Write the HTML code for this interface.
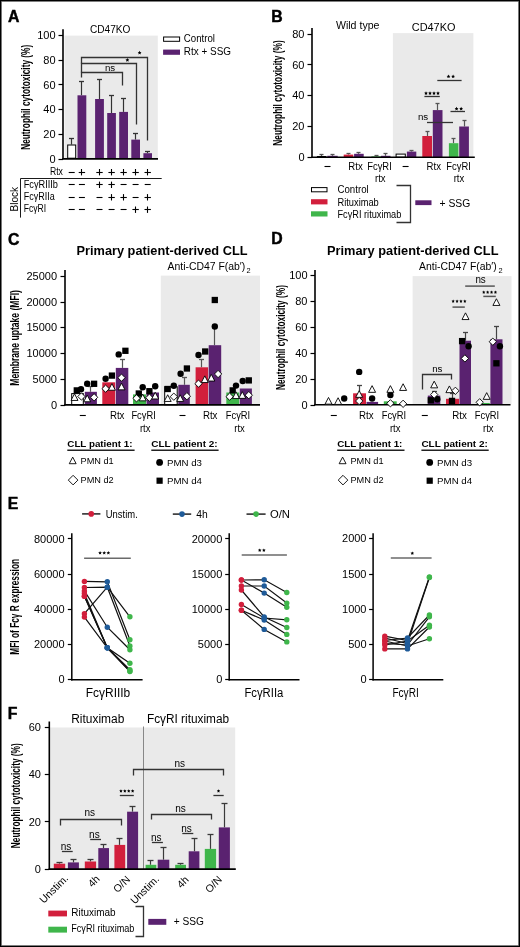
<!DOCTYPE html>
<html><head><meta charset="utf-8"><style>
html,body{margin:0;padding:0;background:#fff;}
body{width:520px;height:947px;overflow:hidden;position:relative;}
svg{position:absolute;left:0;top:0;display:block;will-change:transform;}
text{font-family:"Liberation Sans", sans-serif;}
.frame{position:absolute;left:0;top:0;width:520px;height:947px;box-sizing:border-box;border:1px solid #000;box-shadow:inset 0 0 0 0.8px #555;pointer-events:none;}
</style></head><body>
<svg width="520" height="947" viewBox="0 0 520 947" font-family='"Liberation Sans", sans-serif'>
<rect x="0" y="0" width="520" height="947" fill="#fff"/>
<text x="8.1" y="22.0" font-size="15.8" font-weight="bold" stroke="#000" stroke-width="0.45">A</text>
<text x="110.2" y="32.5" font-size="10" text-anchor="middle" textLength="40.5" lengthAdjust="spacingAndGlyphs">CD47KO</text>
<rect x="64.50" y="35.60" width="93.30" height="122.40" fill="#eaeaea"/>
<text transform="translate(29.9,97.3) rotate(-90)" font-size="13" text-anchor="middle" font-weight="bold" textLength="105" lengthAdjust="spacingAndGlyphs">Neutrophil cytotoxicity (%)</text>
<line x1="58.5" y1="35.5" x2="63" y2="35.5" stroke="#000" stroke-width="1.2"/>
<text x="55.6" y="39.3" font-size="11" text-anchor="end">100</text>
<line x1="58.5" y1="60.5" x2="63" y2="60.5" stroke="#000" stroke-width="1.2"/>
<text x="55.6" y="63.980000000000004" font-size="11" text-anchor="end">80</text>
<line x1="58.5" y1="84.5" x2="63" y2="84.5" stroke="#000" stroke-width="1.2"/>
<text x="55.6" y="88.66000000000001" font-size="11" text-anchor="end">60</text>
<line x1="58.5" y1="109.5" x2="63" y2="109.5" stroke="#000" stroke-width="1.2"/>
<text x="55.6" y="113.34" font-size="11" text-anchor="end">40</text>
<line x1="58.5" y1="134.5" x2="63" y2="134.5" stroke="#000" stroke-width="1.2"/>
<text x="55.6" y="138.01999999999998" font-size="11" text-anchor="end">20</text>
<line x1="58.5" y1="159.5" x2="63" y2="159.5" stroke="#000" stroke-width="1.2"/>
<text x="55.6" y="162.7" font-size="11" text-anchor="end">0</text>
<line x1="71.50" y1="138.50" x2="71.50" y2="144.50" stroke="#333" stroke-width="1.2"/>
<line x1="69.00" y1="138.50" x2="74.00" y2="138.50" stroke="#333" stroke-width="1.3"/>
<rect x="67.70" y="145.00" width="8.00" height="13.20" fill="white" stroke="#000" stroke-width="1"/>
<line x1="81.50" y1="81.50" x2="81.50" y2="95.30" stroke="#333" stroke-width="1.2"/>
<line x1="79.00" y1="81.50" x2="84.00" y2="81.50" stroke="#333" stroke-width="1.3"/>
<rect x="77.50" y="95.30" width="8.80" height="62.90" fill="#5a2270"/>
<line x1="99.50" y1="79.50" x2="99.50" y2="99.00" stroke="#333" stroke-width="1.2"/>
<line x1="97.00" y1="79.50" x2="102.00" y2="79.50" stroke="#333" stroke-width="1.3"/>
<rect x="95.10" y="99.00" width="8.80" height="59.20" fill="#5a2270"/>
<line x1="111.50" y1="95.50" x2="111.50" y2="113.00" stroke="#333" stroke-width="1.2"/>
<line x1="109.00" y1="95.50" x2="114.00" y2="95.50" stroke="#333" stroke-width="1.3"/>
<rect x="107.20" y="113.00" width="8.70" height="45.20" fill="#5a2270"/>
<line x1="123.50" y1="98.50" x2="123.50" y2="111.90" stroke="#333" stroke-width="1.2"/>
<line x1="121.00" y1="98.50" x2="126.00" y2="98.50" stroke="#333" stroke-width="1.3"/>
<rect x="119.20" y="111.90" width="8.80" height="46.30" fill="#5a2270"/>
<line x1="135.50" y1="133.50" x2="135.50" y2="139.60" stroke="#333" stroke-width="1.2"/>
<line x1="133.00" y1="133.50" x2="138.00" y2="133.50" stroke="#333" stroke-width="1.3"/>
<rect x="131.30" y="139.60" width="8.70" height="18.60" fill="#5a2270"/>
<line x1="147.50" y1="151.50" x2="147.50" y2="153.20" stroke="#333" stroke-width="1.2"/>
<line x1="145.00" y1="151.50" x2="150.00" y2="151.50" stroke="#333" stroke-width="1.3"/>
<rect x="143.40" y="153.20" width="8.60" height="5.00" fill="#5a2270"/>
<line x1="62.3" y1="158.9" x2="158" y2="158.9" stroke="#000" stroke-width="1.6"/>
<line x1="63" y1="29.2" x2="63" y2="159.2" stroke="#000" stroke-width="1.6"/>
<path d="M81.5 77.5 V72.5 H122.5 V85.5" stroke="#333" stroke-width="1.3" fill="none"/>
<path d="M81.5 72.5 V63.5 H136.5 V124.5" stroke="#333" stroke-width="1.3" fill="none"/>
<path d="M81.5 63.5 V57.5 H147.5 V140.5" stroke="#333" stroke-width="1.3" fill="none"/>
<text x="110" y="70.9" font-size="9.7" text-anchor="middle">ns</text>
<polygon points="127.40,58.10 127.99,59.29 129.30,59.48 128.35,60.41 128.58,61.72 127.40,61.10 126.22,61.72 126.45,60.41 125.50,59.48 126.81,59.29" fill="#000"/>
<polygon points="139.60,50.80 140.19,51.99 141.50,52.18 140.55,53.11 140.78,54.42 139.60,53.80 138.42,54.42 138.65,53.11 137.70,52.18 139.01,51.99" fill="#000"/>
<rect x="163.60" y="37.00" width="16.00" height="4.30" fill="white" stroke="#000" stroke-width="1"/>
<text x="183.8" y="42.3" font-size="10" textLength="31.2" lengthAdjust="spacingAndGlyphs">Control</text>
<rect x="163.10" y="49.60" width="16.90" height="5.20" fill="#5a2270"/>
<text x="183.8" y="55.4" font-size="10" textLength="47.2" lengthAdjust="spacingAndGlyphs">Rtx + SSG</text>
<text x="62.9" y="174.6" font-size="10" text-anchor="end" textLength="13.0" lengthAdjust="spacingAndGlyphs">Rtx</text>
<line x1="68.7" y1="172.5" x2="74.7" y2="172.5" stroke="#000" stroke-width="1.1"/>
<line x1="78.7" y1="172.5" x2="85.10000000000001" y2="172.5" stroke="#000" stroke-width="1.1"/>
<line x1="81.5" y1="169.0" x2="81.5" y2="175.39999999999998" stroke="#000" stroke-width="1.1"/>
<line x1="96.3" y1="172.5" x2="102.7" y2="172.5" stroke="#000" stroke-width="1.1"/>
<line x1="99.5" y1="169.0" x2="99.5" y2="175.39999999999998" stroke="#000" stroke-width="1.1"/>
<line x1="108.39999999999999" y1="172.5" x2="114.8" y2="172.5" stroke="#000" stroke-width="1.1"/>
<line x1="111.5" y1="169.0" x2="111.5" y2="175.39999999999998" stroke="#000" stroke-width="1.1"/>
<line x1="120.39999999999999" y1="172.5" x2="126.8" y2="172.5" stroke="#000" stroke-width="1.1"/>
<line x1="123.5" y1="169.0" x2="123.5" y2="175.39999999999998" stroke="#000" stroke-width="1.1"/>
<line x1="132.4" y1="172.5" x2="138.79999999999998" y2="172.5" stroke="#000" stroke-width="1.1"/>
<line x1="135.5" y1="169.0" x2="135.5" y2="175.39999999999998" stroke="#000" stroke-width="1.1"/>
<line x1="144.5" y1="172.5" x2="150.89999999999998" y2="172.5" stroke="#000" stroke-width="1.1"/>
<line x1="147.5" y1="169.0" x2="147.5" y2="175.39999999999998" stroke="#000" stroke-width="1.1"/>
<line x1="68.7" y1="184.5" x2="74.7" y2="184.5" stroke="#000" stroke-width="1.1"/>
<line x1="78.9" y1="184.5" x2="84.9" y2="184.5" stroke="#000" stroke-width="1.1"/>
<line x1="96.3" y1="184.5" x2="102.7" y2="184.5" stroke="#000" stroke-width="1.1"/>
<line x1="99.5" y1="181.60000000000002" x2="99.5" y2="188.0" stroke="#000" stroke-width="1.1"/>
<line x1="108.39999999999999" y1="184.5" x2="114.8" y2="184.5" stroke="#000" stroke-width="1.1"/>
<line x1="111.5" y1="181.60000000000002" x2="111.5" y2="188.0" stroke="#000" stroke-width="1.1"/>
<line x1="120.6" y1="184.5" x2="126.6" y2="184.5" stroke="#000" stroke-width="1.1"/>
<line x1="132.6" y1="184.5" x2="138.6" y2="184.5" stroke="#000" stroke-width="1.1"/>
<line x1="144.7" y1="184.5" x2="150.7" y2="184.5" stroke="#000" stroke-width="1.1"/>
<line x1="68.7" y1="197.5" x2="74.7" y2="197.5" stroke="#000" stroke-width="1.1"/>
<line x1="78.9" y1="197.5" x2="84.9" y2="197.5" stroke="#000" stroke-width="1.1"/>
<line x1="96.5" y1="197.5" x2="102.5" y2="197.5" stroke="#000" stroke-width="1.1"/>
<line x1="108.39999999999999" y1="197.5" x2="114.8" y2="197.5" stroke="#000" stroke-width="1.1"/>
<line x1="111.5" y1="194.10000000000002" x2="111.5" y2="200.5" stroke="#000" stroke-width="1.1"/>
<line x1="120.39999999999999" y1="197.5" x2="126.8" y2="197.5" stroke="#000" stroke-width="1.1"/>
<line x1="123.5" y1="194.10000000000002" x2="123.5" y2="200.5" stroke="#000" stroke-width="1.1"/>
<line x1="132.6" y1="197.5" x2="138.6" y2="197.5" stroke="#000" stroke-width="1.1"/>
<line x1="144.5" y1="197.5" x2="150.89999999999998" y2="197.5" stroke="#000" stroke-width="1.1"/>
<line x1="147.5" y1="194.10000000000002" x2="147.5" y2="200.5" stroke="#000" stroke-width="1.1"/>
<line x1="68.7" y1="209.5" x2="74.7" y2="209.5" stroke="#000" stroke-width="1.1"/>
<line x1="78.9" y1="209.5" x2="84.9" y2="209.5" stroke="#000" stroke-width="1.1"/>
<line x1="96.5" y1="209.5" x2="102.5" y2="209.5" stroke="#000" stroke-width="1.1"/>
<line x1="108.6" y1="209.5" x2="114.6" y2="209.5" stroke="#000" stroke-width="1.1"/>
<line x1="120.6" y1="209.5" x2="126.6" y2="209.5" stroke="#000" stroke-width="1.1"/>
<line x1="132.4" y1="209.5" x2="138.79999999999998" y2="209.5" stroke="#000" stroke-width="1.1"/>
<line x1="135.5" y1="206.5" x2="135.5" y2="212.89999999999998" stroke="#000" stroke-width="1.1"/>
<line x1="144.5" y1="209.5" x2="150.89999999999998" y2="209.5" stroke="#000" stroke-width="1.1"/>
<line x1="147.5" y1="206.5" x2="147.5" y2="212.89999999999998" stroke="#000" stroke-width="1.1"/>
<line x1="20.4" y1="178.5" x2="161.7" y2="178.5" stroke="#000" stroke-width="0.9"/>
<line x1="20.5" y1="178.7" x2="20.5" y2="217.6" stroke="#000" stroke-width="0.9"/>
<text x="23.7" y="187.6" font-size="10" textLength="34.3" lengthAdjust="spacingAndGlyphs">Fc&#947;RIIIb</text>
<text x="23.7" y="200.2" font-size="10" textLength="31.0" lengthAdjust="spacingAndGlyphs">Fc&#947;RIIa</text>
<text x="23.7" y="212.4" font-size="10" textLength="22.5" lengthAdjust="spacingAndGlyphs">Fc&#947;RI</text>
<text transform="translate(17.8,199.2) rotate(-90)" font-size="10.5" text-anchor="middle" textLength="24.5" lengthAdjust="spacingAndGlyphs">Block</text>
<text x="271.3" y="22.0" font-size="15.8" font-weight="bold" stroke="#000" stroke-width="0.45">B</text>
<text x="357.7" y="29.0" font-size="10" text-anchor="middle" textLength="43.5" lengthAdjust="spacingAndGlyphs">Wild type</text>
<text x="433.6" y="30.7" font-size="10" text-anchor="middle" textLength="43.6" lengthAdjust="spacingAndGlyphs">CD47KO</text>
<rect x="392.90" y="33.10" width="80.50" height="123.90" fill="#eaeaea"/>
<text transform="translate(282.0,93.0) rotate(-90)" font-size="13" text-anchor="middle" font-weight="bold" textLength="105.4" lengthAdjust="spacingAndGlyphs">Neutrophil cytotoxicity (%)</text>
<line x1="307.5" y1="34.5" x2="312" y2="34.5" stroke="#000" stroke-width="1.2"/>
<text x="304.5" y="37.760000000000005" font-size="11" text-anchor="end">80</text>
<line x1="307.5" y1="64.5" x2="312" y2="64.5" stroke="#000" stroke-width="1.2"/>
<text x="304.5" y="68.62" font-size="11" text-anchor="end">60</text>
<line x1="307.5" y1="95.5" x2="312" y2="95.5" stroke="#000" stroke-width="1.2"/>
<text x="304.5" y="99.48" font-size="11" text-anchor="end">40</text>
<line x1="307.5" y1="126.5" x2="312" y2="126.5" stroke="#000" stroke-width="1.2"/>
<text x="304.5" y="130.34" font-size="11" text-anchor="end">20</text>
<line x1="307.5" y1="157.5" x2="312" y2="157.5" stroke="#000" stroke-width="1.2"/>
<text x="304.5" y="161.2" font-size="11" text-anchor="end">0</text>
<line x1="321.50" y1="154.50" x2="321.50" y2="156.00" stroke="#555" stroke-width="1.2"/>
<line x1="319.50" y1="154.50" x2="323.50" y2="154.50" stroke="#555" stroke-width="1.3"/>
<rect x="317.40" y="156.50" width="8.50" height="0.70" fill="white" stroke="#000" stroke-width="1"/>
<line x1="332.50" y1="154.50" x2="332.50" y2="155.80" stroke="#555" stroke-width="1.2"/>
<line x1="330.50" y1="154.50" x2="334.50" y2="154.50" stroke="#555" stroke-width="1.3"/>
<rect x="327.30" y="155.80" width="10.40" height="1.40" fill="#5a2270"/>
<line x1="348.50" y1="153.50" x2="348.50" y2="154.60" stroke="#555" stroke-width="1.2"/>
<line x1="346.50" y1="153.50" x2="350.50" y2="153.50" stroke="#555" stroke-width="1.3"/>
<rect x="343.70" y="154.60" width="9.60" height="2.60" fill="#d21f3c"/>
<line x1="358.50" y1="152.50" x2="358.50" y2="153.80" stroke="#555" stroke-width="1.2"/>
<line x1="356.50" y1="152.50" x2="360.50" y2="152.50" stroke="#555" stroke-width="1.3"/>
<rect x="354.10" y="153.80" width="9.60" height="3.40" fill="#5a2270"/>
<line x1="376.50" y1="155.50" x2="376.50" y2="156.40" stroke="#555" stroke-width="1.2"/>
<line x1="374.50" y1="155.50" x2="378.50" y2="155.50" stroke="#555" stroke-width="1.3"/>
<rect x="371.40" y="156.40" width="9.60" height="0.80" fill="#3fb64b"/>
<line x1="385.50" y1="153.50" x2="385.50" y2="155.80" stroke="#555" stroke-width="1.2"/>
<line x1="383.50" y1="153.50" x2="387.50" y2="153.50" stroke="#555" stroke-width="1.3"/>
<rect x="381.00" y="155.80" width="9.50" height="1.40" fill="#5a2270"/>
<rect x="396.10" y="154.10" width="9.20" height="3.10" fill="white" stroke="#000" stroke-width="1"/>
<line x1="411.50" y1="150.50" x2="411.50" y2="151.60" stroke="#555" stroke-width="1.2"/>
<line x1="409.50" y1="150.50" x2="413.50" y2="150.50" stroke="#555" stroke-width="1.3"/>
<rect x="406.90" y="151.60" width="9.40" height="5.60" fill="#5a2270"/>
<line x1="427.50" y1="131.50" x2="427.50" y2="136.00" stroke="#555" stroke-width="1.2"/>
<line x1="425.50" y1="131.50" x2="429.50" y2="131.50" stroke="#555" stroke-width="1.3"/>
<rect x="422.30" y="136.00" width="9.70" height="21.20" fill="#d21f3c"/>
<line x1="437.50" y1="103.50" x2="437.50" y2="110.10" stroke="#555" stroke-width="1.2"/>
<line x1="435.50" y1="103.50" x2="439.50" y2="103.50" stroke="#555" stroke-width="1.3"/>
<rect x="432.80" y="110.10" width="9.70" height="47.10" fill="#5a2270"/>
<line x1="453.50" y1="138.50" x2="453.50" y2="143.20" stroke="#555" stroke-width="1.2"/>
<line x1="451.50" y1="138.50" x2="455.50" y2="138.50" stroke="#555" stroke-width="1.3"/>
<rect x="448.90" y="143.20" width="9.50" height="14.00" fill="#3fb64b"/>
<line x1="464.50" y1="120.50" x2="464.50" y2="126.50" stroke="#555" stroke-width="1.2"/>
<line x1="462.50" y1="120.50" x2="466.50" y2="120.50" stroke="#555" stroke-width="1.3"/>
<rect x="459.20" y="126.50" width="9.70" height="30.70" fill="#5a2270"/>
<line x1="311.3" y1="157.3" x2="474.8" y2="157.3" stroke="#000" stroke-width="1.6"/>
<line x1="312" y1="28" x2="312" y2="158" stroke="#000" stroke-width="1.6"/>
<line x1="424.4" y1="96.5" x2="439.8" y2="96.5" stroke="#333" stroke-width="1.3"/>
<polygon points="426.00,91.30 426.59,92.49 427.90,92.68 426.95,93.61 427.18,94.92 426.00,94.30 424.82,94.92 425.05,93.61 424.10,92.68 425.41,92.49" fill="#000"/>
<polygon points="430.00,91.30 430.59,92.49 431.90,92.68 430.95,93.61 431.18,94.92 430.00,94.30 428.82,94.92 429.05,93.61 428.10,92.68 429.41,92.49" fill="#000"/>
<polygon points="434.00,91.30 434.59,92.49 435.90,92.68 434.95,93.61 435.18,94.92 434.00,94.30 432.82,94.92 433.05,93.61 432.10,92.68 433.41,92.49" fill="#000"/>
<polygon points="438.00,91.30 438.59,92.49 439.90,92.68 438.95,93.61 439.18,94.92 438.00,94.30 436.82,94.92 437.05,93.61 436.10,92.68 437.41,92.49" fill="#000"/>
<line x1="427.0" y1="122.5" x2="453.0" y2="122.5" stroke="#333" stroke-width="1.3"/>
<text x="423.0" y="120.0" font-size="9.7" text-anchor="middle">ns</text>
<line x1="450.5" y1="111.5" x2="465.0" y2="111.5" stroke="#333" stroke-width="1.3"/>
<polygon points="456.55,106.80 457.14,107.99 458.45,108.18 457.50,109.11 457.73,110.42 456.55,109.80 455.37,110.42 455.60,109.11 454.65,108.18 455.96,107.99" fill="#000"/>
<polygon points="461.15,106.80 461.74,107.99 463.05,108.18 462.10,109.11 462.33,110.42 461.15,109.80 459.97,110.42 460.20,109.11 459.25,108.18 460.56,107.99" fill="#000"/>
<line x1="437.3" y1="80.5" x2="461.6" y2="80.5" stroke="#333" stroke-width="1.3"/>
<polygon points="448.50,74.50 449.09,75.69 450.40,75.88 449.45,76.81 449.68,78.12 448.50,77.50 447.32,78.12 447.55,76.81 446.60,75.88 447.91,75.69" fill="#000"/>
<polygon points="453.10,74.50 453.69,75.69 455.00,75.88 454.05,76.81 454.28,78.12 453.10,77.50 451.92,78.12 452.15,76.81 451.20,75.88 452.51,75.69" fill="#000"/>
<line x1="324.5" y1="166.5" x2="330.5" y2="166.5" stroke="#000" stroke-width="1.1"/>
<line x1="402.6" y1="166.5" x2="408.6" y2="166.5" stroke="#000" stroke-width="1.1"/>
<text x="355.5" y="169.6" font-size="10" text-anchor="middle" textLength="14.4" lengthAdjust="spacingAndGlyphs">Rtx</text>
<text x="433.8" y="169.6" font-size="10" text-anchor="middle" textLength="14.4" lengthAdjust="spacingAndGlyphs">Rtx</text>
<text x="379.5" y="169.6" font-size="10" text-anchor="middle" textLength="24.6" lengthAdjust="spacingAndGlyphs">Fc&#947;RI</text>
<text x="458.6" y="169.6" font-size="10" text-anchor="middle" textLength="24.6" lengthAdjust="spacingAndGlyphs">Fc&#947;RI</text>
<text x="380.3" y="182.0" font-size="10" text-anchor="middle" textLength="10.6" lengthAdjust="spacingAndGlyphs">rtx</text>
<text x="459.0" y="182.0" font-size="10" text-anchor="middle" textLength="10.6" lengthAdjust="spacingAndGlyphs">rtx</text>
<rect x="311.50" y="187.60" width="15.50" height="4.20" fill="white" stroke="#000" stroke-width="1"/>
<rect x="311.00" y="199.20" width="16.50" height="5.20" fill="#d21f3c"/>
<rect x="311.00" y="211.30" width="16.50" height="5.20" fill="#3fb64b"/>
<text x="337.5" y="193.0" font-size="10" textLength="31.2" lengthAdjust="spacingAndGlyphs">Control</text>
<text x="337.5" y="205.5" font-size="10" textLength="41.3" lengthAdjust="spacingAndGlyphs">Rituximab</text>
<text x="337.5" y="217.6" font-size="10" textLength="63.8" lengthAdjust="spacingAndGlyphs">Fc&#947;RI rituximab</text>
<path d="M396.5 185.5 H410.5 V222.5 H396.5" stroke="#333" stroke-width="1.3" fill="none"/>
<rect x="415.30" y="200.30" width="16.20" height="4.80" fill="#5a2270"/>
<text x="439.5" y="206.6" font-size="10" textLength="30.8" lengthAdjust="spacingAndGlyphs">+ SSG</text>
<text x="7.9" y="244.5" font-size="15.8" font-weight="bold" stroke="#000" stroke-width="0.45">C</text>
<text x="76.5" y="255.4" font-size="12.1" font-weight="bold" textLength="171" lengthAdjust="spacingAndGlyphs">Primary patient-derived CLL</text>
<text x="167.5" y="270.0" font-size="10.4" textLength="77.8" lengthAdjust="spacingAndGlyphs">Anti-CD47 F(ab&#8242;)</text>
<text x="246.5" y="272.6" font-size="7.4">2</text>
<rect x="160.80" y="275.60" width="99.20" height="129.00" fill="#eaeaea"/>
<text transform="translate(19.2,337.9) rotate(-90)" font-size="12.8" text-anchor="middle" font-weight="bold" textLength="95.6" lengthAdjust="spacingAndGlyphs">Membrane uptake (MFI)</text>
<line x1="60.5" y1="276.5" x2="65" y2="276.5" stroke="#000" stroke-width="1.2"/>
<text x="57" y="279.95" font-size="11" text-anchor="end">25000</text>
<line x1="60.5" y1="302.5" x2="65" y2="302.5" stroke="#000" stroke-width="1.2"/>
<text x="57" y="305.7" font-size="11" text-anchor="end">20000</text>
<line x1="60.5" y1="327.5" x2="65" y2="327.5" stroke="#000" stroke-width="1.2"/>
<text x="57" y="331.45" font-size="11" text-anchor="end">15000</text>
<line x1="60.5" y1="353.5" x2="65" y2="353.5" stroke="#000" stroke-width="1.2"/>
<text x="57" y="357.2" font-size="11" text-anchor="end">10000</text>
<line x1="60.5" y1="379.5" x2="65" y2="379.5" stroke="#000" stroke-width="1.2"/>
<text x="57" y="382.95" font-size="11" text-anchor="end">5000</text>
<line x1="60.5" y1="405.5" x2="65" y2="405.5" stroke="#000" stroke-width="1.2"/>
<text x="57" y="408.7" font-size="11" text-anchor="end">0</text>
<rect x="71.70" y="393.60" width="11.60" height="11.20" fill="white" stroke="#000" stroke-width="1"/>
<line x1="90.50" y1="386.50" x2="90.50" y2="391.80" stroke="#555" stroke-width="1.2"/>
<line x1="88.00" y1="386.50" x2="93.00" y2="386.50" stroke="#555" stroke-width="1.3"/>
<rect x="84.80" y="391.80" width="12.10" height="13.00" fill="#5a2270"/>
<rect x="102.30" y="382.30" width="12.90" height="22.50" fill="#d21f3c"/>
<line x1="122.50" y1="359.50" x2="122.50" y2="367.90" stroke="#555" stroke-width="1.2"/>
<line x1="120.00" y1="359.50" x2="125.00" y2="359.50" stroke="#555" stroke-width="1.3"/>
<rect x="115.80" y="367.90" width="12.50" height="36.90" fill="#5a2270"/>
<rect x="133.00" y="394.40" width="13.00" height="10.40" fill="#3fb64b"/>
<rect x="146.50" y="392.50" width="12.50" height="12.30" fill="#5a2270"/>
<rect x="164.70" y="386.70" width="12.50" height="18.10" fill="white" stroke="#000" stroke-width="1"/>
<line x1="184.50" y1="377.50" x2="184.50" y2="384.80" stroke="#555" stroke-width="1.2"/>
<line x1="182.00" y1="377.50" x2="187.00" y2="377.50" stroke="#555" stroke-width="1.3"/>
<rect x="178.30" y="384.80" width="11.50" height="20.00" fill="#5a2270"/>
<line x1="201.50" y1="359.50" x2="201.50" y2="367.30" stroke="#555" stroke-width="1.2"/>
<line x1="199.00" y1="359.50" x2="204.00" y2="359.50" stroke="#555" stroke-width="1.3"/>
<rect x="195.60" y="367.30" width="12.50" height="37.50" fill="#d21f3c"/>
<line x1="214.50" y1="326.50" x2="214.50" y2="345.20" stroke="#555" stroke-width="1.2"/>
<line x1="212.00" y1="326.50" x2="217.00" y2="326.50" stroke="#555" stroke-width="1.3"/>
<rect x="208.70" y="345.20" width="12.50" height="59.60" fill="#5a2270"/>
<rect x="226.30" y="392.50" width="12.90" height="12.30" fill="#3fb64b"/>
<rect x="239.80" y="388.50" width="12.10" height="16.30" fill="#5a2270"/>
<line x1="64.3" y1="404.9" x2="260" y2="404.9" stroke="#000" stroke-width="1.6"/>
<line x1="65" y1="270" x2="65" y2="405.5" stroke="#000" stroke-width="1.6"/>
<rect x="73.65" y="387.25" width="6.3" height="6.3" fill="#000"/>
<circle cx="81.0" cy="389.2" r="3.2" fill="#000"/>
<path d="M74.50 393.75 L78.00 400.45 L71.00 400.45 Z" fill="#fff" stroke="#000" stroke-width="0.9"/>
<path d="M81.40 392.85 L85.05 396.50 L81.40 400.15 L77.75 396.50 Z" fill="#fff" stroke="#000" stroke-width="0.9"/>
<circle cx="87.2" cy="383.8" r="3.2" fill="#000"/>
<rect x="90.95" y="380.65" width="6.3" height="6.3" fill="#000"/>
<path d="M87.20 395.05 L90.70 401.75 L83.70 401.75 Z" fill="#fff" stroke="#000" stroke-width="0.9"/>
<path d="M94.10 393.65 L97.75 397.30 L94.10 400.95 L90.45 397.30 Z" fill="#fff" stroke="#000" stroke-width="0.9"/>
<circle cx="105.6" cy="378.7" r="3.2" fill="#000"/>
<rect x="108.75" y="372.45" width="6.3" height="6.3" fill="#000"/>
<path d="M105.60 385.05 L109.25 388.70 L105.60 392.35 L101.95 388.70 Z" fill="#fff" stroke="#000" stroke-width="0.9"/>
<path d="M111.90 383.55 L115.40 390.25 L108.40 390.25 Z" fill="#fff" stroke="#000" stroke-width="0.9"/>
<circle cx="118.7" cy="354.4" r="3.2" fill="#000"/>
<rect x="122.25" y="347.65" width="6.3" height="6.3" fill="#000"/>
<path d="M121.50 374.05 L125.15 377.70 L121.50 381.35 L117.85 377.70 Z" fill="#fff" stroke="#000" stroke-width="0.9"/>
<path d="M121.50 383.15 L125.00 389.85 L118.00 389.85 Z" fill="#fff" stroke="#000" stroke-width="0.9"/>
<rect x="135.65" y="390.35" width="6.3" height="6.3" fill="#000"/>
<circle cx="142.7" cy="387.3" r="3.2" fill="#000"/>
<path d="M136.50 394.65 L140.15 398.30 L136.50 401.95 L132.85 398.30 Z" fill="#fff" stroke="#000" stroke-width="0.9"/>
<path d="M142.70 394.15 L146.20 400.85 L139.20 400.85 Z" fill="#fff" stroke="#000" stroke-width="0.9"/>
<rect x="146.25" y="388.05" width="6.3" height="6.3" fill="#000"/>
<circle cx="155.2" cy="386.2" r="3.2" fill="#000"/>
<path d="M149.40 394.05 L153.05 397.70 L149.40 401.35 L145.75 397.70 Z" fill="#fff" stroke="#000" stroke-width="0.9"/>
<path d="M155.20 392.25 L158.70 398.95 L151.70 398.95 Z" fill="#fff" stroke="#000" stroke-width="0.9"/>
<rect x="164.55" y="385.85" width="6.3" height="6.3" fill="#000"/>
<circle cx="173.8" cy="385.8" r="3.2" fill="#000"/>
<path d="M167.70 394.75 L171.20 401.45 L164.20 401.45 Z" fill="#fff" stroke="#000" stroke-width="0.9"/>
<path d="M173.80 393.05 L177.45 396.70 L173.80 400.35 L170.15 396.70 Z" fill="#fff" stroke="#000" stroke-width="0.9"/>
<circle cx="180.6" cy="373.7" r="3.2" fill="#000"/>
<rect x="183.75" y="365.35" width="6.3" height="6.3" fill="#000"/>
<path d="M180.20 394.75 L183.70 401.45 L176.70 401.45 Z" fill="#fff" stroke="#000" stroke-width="0.9"/>
<path d="M186.90 392.55 L190.55 396.20 L186.90 399.85 L183.25 396.20 Z" fill="#fff" stroke="#000" stroke-width="0.9"/>
<circle cx="198.5" cy="355.0" r="3.2" fill="#000"/>
<rect x="202.05" y="348.35" width="6.3" height="6.3" fill="#000"/>
<path d="M198.50 380.05 L202.15 383.70 L198.50 387.35 L194.85 383.70 Z" fill="#fff" stroke="#000" stroke-width="0.9"/>
<path d="M204.80 375.85 L208.30 382.55 L201.30 382.55 Z" fill="#fff" stroke="#000" stroke-width="0.9"/>
<rect x="211.65" y="296.85" width="6.3" height="6.3" fill="#000"/>
<circle cx="214.8" cy="326.5" r="3.2" fill="#000"/>
<path d="M211.30 374.35 L214.80 381.05 L207.80 381.05 Z" fill="#fff" stroke="#000" stroke-width="0.9"/>
<path d="M218.10 370.35 L221.75 374.00 L218.10 377.65 L214.45 374.00 Z" fill="#fff" stroke="#000" stroke-width="0.9"/>
<rect x="229.55" y="387.25" width="6.3" height="6.3" fill="#000"/>
<circle cx="236.0" cy="385.6" r="3.2" fill="#000"/>
<path d="M229.60 393.05 L233.25 396.70 L229.60 400.35 L225.95 396.70 Z" fill="#fff" stroke="#000" stroke-width="0.9"/>
<path d="M236.00 391.85 L239.50 398.55 L232.50 398.55 Z" fill="#fff" stroke="#000" stroke-width="0.9"/>
<circle cx="242.7" cy="381.0" r="3.2" fill="#000"/>
<rect x="245.65" y="377.25" width="6.3" height="6.3" fill="#000"/>
<path d="M242.30 391.65 L245.80 398.35 L238.80 398.35 Z" fill="#fff" stroke="#000" stroke-width="0.9"/>
<path d="M248.80 391.55 L252.45 395.20 L248.80 398.85 L245.15 395.20 Z" fill="#fff" stroke="#000" stroke-width="0.9"/>
<line x1="79.8" y1="415.5" x2="85.8" y2="415.5" stroke="#000" stroke-width="1.1"/>
<line x1="179.5" y1="415.5" x2="185.5" y2="415.5" stroke="#000" stroke-width="1.1"/>
<text x="117.2" y="418.8" font-size="10" text-anchor="middle" textLength="14.6" lengthAdjust="spacingAndGlyphs">Rtx</text>
<text x="210.2" y="418.8" font-size="10" text-anchor="middle" textLength="14.6" lengthAdjust="spacingAndGlyphs">Rtx</text>
<text x="143.6" y="418.8" font-size="10" text-anchor="middle" textLength="24.4" lengthAdjust="spacingAndGlyphs">Fc&#947;RI</text>
<text x="145.2" y="432.0" font-size="10" text-anchor="middle" textLength="10.5" lengthAdjust="spacingAndGlyphs">rtx</text>
<text x="238.0" y="418.8" font-size="10" text-anchor="middle" textLength="24.4" lengthAdjust="spacingAndGlyphs">Fc&#947;RI</text>
<text x="239.6" y="432.0" font-size="10" text-anchor="middle" textLength="10.5" lengthAdjust="spacingAndGlyphs">rtx</text>
<text x="67.3" y="447.3" font-size="9.0" font-weight="bold" textLength="65.2" lengthAdjust="spacingAndGlyphs">CLL patient 1:</text>
<line x1="67.3" y1="450.2" x2="134.6" y2="450.2" stroke="#222" stroke-width="1.4"/>
<text x="151.3" y="447.3" font-size="9.0" font-weight="bold" textLength="66.4" lengthAdjust="spacingAndGlyphs">CLL patient 2:</text>
<line x1="151.3" y1="450.2" x2="218.60000000000002" y2="450.2" stroke="#222" stroke-width="1.4"/>
<path d="M72.70 457.10 L76.15 463.71 L69.25 463.71 Z" fill="#fff" stroke="#000" stroke-width="0.9"/>
<text x="80.5" y="463.7" font-size="8.9" textLength="33.2" lengthAdjust="spacingAndGlyphs">PMN d1</text>
<path d="M73.10 475.30 L77.90 480.10 L73.10 484.90 L68.30 480.10 Z" fill="#fff" stroke="#000" stroke-width="0.9"/>
<text x="80.5" y="483.2" font-size="8.9" textLength="33.2" lengthAdjust="spacingAndGlyphs">PMN d2</text>
<circle cx="159.60000000000002" cy="462.40000000000003" r="3.4" fill="#000"/>
<text x="167.0" y="465.8" font-size="8.9" textLength="35.0" lengthAdjust="spacingAndGlyphs">PMN d3</text>
<rect x="156.50" y="477.60" width="6.2" height="6.2" fill="#000"/>
<text x="167.0" y="484.2" font-size="8.9" textLength="35.0" lengthAdjust="spacingAndGlyphs">PMN d4</text>
<text x="271.3" y="244.2" font-size="15.8" font-weight="bold" stroke="#000" stroke-width="0.45">D</text>
<text x="327.0" y="255.4" font-size="12.1" font-weight="bold" textLength="171.5" lengthAdjust="spacingAndGlyphs">Primary patient-derived CLL</text>
<text x="419.0" y="270.0" font-size="10.4" textLength="77.8" lengthAdjust="spacingAndGlyphs">Anti-CD47 F(ab&#8242;)</text>
<text x="498.4" y="272.6" font-size="7.4">2</text>
<rect x="412.60" y="276.10" width="98.90" height="128.30" fill="#eaeaea"/>
<text transform="translate(284.8,337.55) rotate(-90)" font-size="13" text-anchor="middle" font-weight="bold" textLength="104.9" lengthAdjust="spacingAndGlyphs">Neutrophil cytotoxicity (%)</text>
<line x1="310.5" y1="275.5" x2="315" y2="275.5" stroke="#000" stroke-width="1.2"/>
<text x="307.5" y="279.45" font-size="11" text-anchor="end">100</text>
<line x1="310.5" y1="301.5" x2="315" y2="301.5" stroke="#000" stroke-width="1.2"/>
<text x="307.5" y="305.3" font-size="11" text-anchor="end">80</text>
<line x1="310.5" y1="327.5" x2="315" y2="327.5" stroke="#000" stroke-width="1.2"/>
<text x="307.5" y="331.15" font-size="11" text-anchor="end">60</text>
<line x1="310.5" y1="353.5" x2="315" y2="353.5" stroke="#000" stroke-width="1.2"/>
<text x="307.5" y="357.0" font-size="11" text-anchor="end">40</text>
<line x1="310.5" y1="379.5" x2="315" y2="379.5" stroke="#000" stroke-width="1.2"/>
<text x="307.5" y="382.84999999999997" font-size="11" text-anchor="end">20</text>
<line x1="310.5" y1="405.5" x2="315" y2="405.5" stroke="#000" stroke-width="1.2"/>
<text x="307.5" y="408.7" font-size="11" text-anchor="end">0</text>
<line x1="359.50" y1="385.50" x2="359.50" y2="393.30" stroke="#444" stroke-width="1.2"/>
<line x1="357.00" y1="385.50" x2="362.00" y2="385.50" stroke="#444" stroke-width="1.3"/>
<rect x="353.10" y="393.30" width="12.90" height="11.30" fill="#d21f3c"/>
<rect x="366.50" y="401.90" width="11.60" height="2.70" fill="#5a2270"/>
<rect x="383.80" y="401.30" width="12.90" height="3.30" fill="#3fb64b"/>
<line x1="434.50" y1="391.50" x2="434.50" y2="395.60" stroke="#444" stroke-width="1.2"/>
<line x1="432.00" y1="391.50" x2="437.00" y2="391.50" stroke="#444" stroke-width="1.3"/>
<rect x="427.80" y="395.60" width="12.50" height="9.00" fill="#5a2270"/>
<line x1="452.50" y1="393.50" x2="452.50" y2="398.80" stroke="#444" stroke-width="1.2"/>
<line x1="450.00" y1="393.50" x2="455.00" y2="393.50" stroke="#444" stroke-width="1.3"/>
<rect x="446.00" y="398.80" width="13.10" height="5.80" fill="#d21f3c"/>
<line x1="465.50" y1="332.50" x2="465.50" y2="340.70" stroke="#444" stroke-width="1.2"/>
<line x1="463.00" y1="332.50" x2="468.00" y2="332.50" stroke="#444" stroke-width="1.3"/>
<rect x="459.50" y="340.70" width="11.50" height="63.90" fill="#5a2270"/>
<rect x="477.00" y="403.00" width="12.80" height="1.60" fill="#3fb64b"/>
<line x1="496.50" y1="326.50" x2="496.50" y2="339.30" stroke="#444" stroke-width="1.2"/>
<line x1="494.00" y1="326.50" x2="499.00" y2="326.50" stroke="#444" stroke-width="1.3"/>
<rect x="490.40" y="339.30" width="12.10" height="65.30" fill="#5a2270"/>
<line x1="314.3" y1="404.7" x2="510.5" y2="404.7" stroke="#000" stroke-width="1.6"/>
<line x1="315" y1="270" x2="315" y2="405.3" stroke="#000" stroke-width="1.6"/>
<path d="M328.50 397.45 L332.00 404.15 L325.00 404.15 Z" fill="#fff" stroke="#000" stroke-width="0.9"/>
<path d="M338.10 397.75 L341.60 404.45 L334.60 404.45 Z" fill="#fff" stroke="#000" stroke-width="0.9"/>
<circle cx="344.2" cy="398.5" r="3.2" fill="#000"/>
<circle cx="359.2" cy="371.9" r="3.2" fill="#000"/>
<path d="M359.20 390.65 L362.70 397.35 L355.70 397.35 Z" fill="#fff" stroke="#000" stroke-width="0.9"/>
<path d="M359.20 397.35 L362.85 401.00 L359.20 404.65 L355.55 401.00 Z" fill="#fff" stroke="#000" stroke-width="0.9"/>
<circle cx="372.1" cy="398.5" r="3.2" fill="#000"/>
<path d="M372.10 385.65 L375.60 392.35 L368.60 392.35 Z" fill="#fff" stroke="#000" stroke-width="0.9"/>
<circle cx="390.4" cy="395.0" r="3.2" fill="#000"/>
<path d="M390.40 385.65 L393.90 392.35 L386.90 392.35 Z" fill="#fff" stroke="#000" stroke-width="0.9"/>
<path d="M390.40 399.65 L394.05 403.30 L390.40 406.95 L386.75 403.30 Z" fill="#fff" stroke="#000" stroke-width="0.9"/>
<path d="M403.10 383.75 L406.60 390.45 L399.60 390.45 Z" fill="#fff" stroke="#000" stroke-width="0.9"/>
<path d="M403.10 400.15 L406.75 403.80 L403.10 407.45 L399.45 403.80 Z" fill="#fff" stroke="#000" stroke-width="0.9"/>
<rect x="427.65" y="397.15" width="6.3" height="6.3" fill="#000"/>
<circle cx="437.3" cy="399.2" r="3.2" fill="#000"/>
<path d="M434.20 390.95 L437.85 394.60 L434.20 398.25 L430.55 394.60 Z" fill="#fff" stroke="#000" stroke-width="0.9"/>
<path d="M434.20 381.15 L437.70 387.85 L430.70 387.85 Z" fill="#fff" stroke="#000" stroke-width="0.9"/>
<rect x="448.85" y="397.75" width="6.3" height="6.3" fill="#000"/>
<path d="M449.40 385.95 L452.90 392.65 L445.90 392.65 Z" fill="#fff" stroke="#000" stroke-width="0.9"/>
<path d="M455.40 387.15 L459.05 390.80 L455.40 394.45 L451.75 390.80 Z" fill="#fff" stroke="#000" stroke-width="0.9"/>
<rect x="458.95" y="337.95" width="6.3" height="6.3" fill="#000"/>
<circle cx="468.6" cy="346.3" r="3.2" fill="#000"/>
<path d="M464.90 354.75 L468.55 358.40 L464.90 362.05 L461.25 358.40 Z" fill="#fff" stroke="#000" stroke-width="0.9"/>
<path d="M465.50 312.85 L469.00 319.55 L462.00 319.55 Z" fill="#fff" stroke="#000" stroke-width="0.9"/>
<path d="M479.70 398.65 L483.35 402.30 L479.70 405.95 L476.05 402.30 Z" fill="#fff" stroke="#000" stroke-width="0.9"/>
<path d="M486.70 392.65 L490.20 399.35 L483.20 399.35 Z" fill="#fff" stroke="#000" stroke-width="0.9"/>
<path d="M492.80 338.05 L496.45 341.70 L492.80 345.35 L489.15 341.70 Z" fill="#fff" stroke="#000" stroke-width="0.9"/>
<circle cx="499.9" cy="346.3" r="3.2" fill="#000"/>
<rect x="493.25" y="360.15" width="6.3" height="6.3" fill="#000"/>
<path d="M496.40 298.75 L499.90 305.45 L492.90 305.45 Z" fill="#fff" stroke="#000" stroke-width="0.9"/>
<path d="M422.5 389.5 V374.5 H451.5 V379.5" stroke="#333" stroke-width="1.3" fill="none"/>
<text x="437.3" y="372.3" font-size="9.7" text-anchor="middle">ns</text>
<line x1="452.5" y1="307.1" x2="464.8" y2="307.1" stroke="#555" stroke-width="1.5"/>
<polygon points="453.15,299.60 453.65,300.61 454.77,300.77 453.96,301.56 454.15,302.68 453.15,302.15 452.15,302.68 452.34,301.56 451.53,300.77 452.65,300.61" fill="#000"/>
<polygon points="457.05,299.60 457.55,300.61 458.67,300.77 457.86,301.56 458.05,302.68 457.05,302.15 456.05,302.68 456.24,301.56 455.43,300.77 456.55,300.61" fill="#000"/>
<polygon points="460.95,299.60 461.45,300.61 462.57,300.77 461.76,301.56 461.95,302.68 460.95,302.15 459.95,302.68 460.14,301.56 459.33,300.77 460.45,300.61" fill="#000"/>
<polygon points="464.85,299.60 465.35,300.61 466.47,300.77 465.66,301.56 465.85,302.68 464.85,302.15 463.85,302.68 464.04,301.56 463.23,300.77 464.35,300.61" fill="#000"/>
<line x1="483.3" y1="296.4" x2="495.8" y2="296.4" stroke="#555" stroke-width="1.5"/>
<polygon points="483.75,290.60 484.25,291.61 485.37,291.77 484.56,292.56 484.75,293.68 483.75,293.15 482.75,293.68 482.94,292.56 482.13,291.77 483.25,291.61" fill="#000"/>
<polygon points="487.65,290.60 488.15,291.61 489.27,291.77 488.46,292.56 488.65,293.68 487.65,293.15 486.65,293.68 486.84,292.56 486.03,291.77 487.15,291.61" fill="#000"/>
<polygon points="491.55,290.60 492.05,291.61 493.17,291.77 492.36,292.56 492.55,293.68 491.55,293.15 490.55,293.68 490.74,292.56 489.93,291.77 491.05,291.61" fill="#000"/>
<polygon points="495.45,290.60 495.95,291.61 497.07,291.77 496.26,292.56 496.45,293.68 495.45,293.15 494.45,293.68 494.64,292.56 493.83,291.77 494.95,291.61" fill="#000"/>
<line x1="465.2" y1="286.1" x2="494.8" y2="286.1" stroke="#555" stroke-width="1.5"/>
<text x="480.6" y="283.3" font-size="10.2" text-anchor="middle" textLength="10.4" lengthAdjust="spacingAndGlyphs">ns</text>
<line x1="330.8" y1="415.5" x2="336.8" y2="415.5" stroke="#000" stroke-width="1.1"/>
<line x1="421.8" y1="415.5" x2="427.8" y2="415.5" stroke="#000" stroke-width="1.1"/>
<text x="366.4" y="418.8" font-size="10" text-anchor="middle" textLength="14.6" lengthAdjust="spacingAndGlyphs">Rtx</text>
<text x="459.5" y="418.8" font-size="10" text-anchor="middle" textLength="14.6" lengthAdjust="spacingAndGlyphs">Rtx</text>
<text x="393.9" y="418.8" font-size="10" text-anchor="middle" textLength="24.4" lengthAdjust="spacingAndGlyphs">Fc&#947;RI</text>
<text x="395.2" y="432.0" font-size="10" text-anchor="middle" textLength="10.5" lengthAdjust="spacingAndGlyphs">rtx</text>
<text x="487.0" y="418.8" font-size="10" text-anchor="middle" textLength="24.4" lengthAdjust="spacingAndGlyphs">Fc&#947;RI</text>
<text x="488.3" y="432.0" font-size="10" text-anchor="middle" textLength="10.5" lengthAdjust="spacingAndGlyphs">rtx</text>
<text x="337.2" y="447.3" font-size="9.0" font-weight="bold" textLength="65.2" lengthAdjust="spacingAndGlyphs">CLL patient 1:</text>
<line x1="337.2" y1="450.2" x2="404.5" y2="450.2" stroke="#222" stroke-width="1.4"/>
<text x="421.4" y="447.3" font-size="9.0" font-weight="bold" textLength="66.4" lengthAdjust="spacingAndGlyphs">CLL patient 2:</text>
<line x1="421.4" y1="450.2" x2="488.7" y2="450.2" stroke="#222" stroke-width="1.4"/>
<path d="M342.60 457.10 L346.05 463.71 L339.15 463.71 Z" fill="#fff" stroke="#000" stroke-width="0.9"/>
<text x="350.4" y="463.7" font-size="8.9" textLength="33.2" lengthAdjust="spacingAndGlyphs">PMN d1</text>
<path d="M343.00 475.30 L347.80 480.10 L343.00 484.90 L338.20 480.10 Z" fill="#fff" stroke="#000" stroke-width="0.9"/>
<text x="350.4" y="483.2" font-size="8.9" textLength="33.2" lengthAdjust="spacingAndGlyphs">PMN d2</text>
<circle cx="429.7" cy="462.40000000000003" r="3.4" fill="#000"/>
<text x="437.09999999999997" y="465.8" font-size="8.9" textLength="35.0" lengthAdjust="spacingAndGlyphs">PMN d3</text>
<rect x="426.60" y="477.60" width="6.2" height="6.2" fill="#000"/>
<text x="437.09999999999997" y="484.2" font-size="8.9" textLength="35.0" lengthAdjust="spacingAndGlyphs">PMN d4</text>
<text x="7.8" y="508.7" font-size="15.8" font-weight="bold" stroke="#000" stroke-width="0.45">E</text>
<line x1="82.1" y1="513.9" x2="100.4" y2="513.9" stroke="#222" stroke-width="1.5"/>
<circle cx="91.25" cy="513.9" r="2.8" fill="#d21f3c"/>
<text x="105.8" y="518.0" font-size="10" textLength="32.0" lengthAdjust="spacingAndGlyphs">Unstim.</text>
<line x1="172.8" y1="514.1" x2="191.2" y2="514.1" stroke="#222" stroke-width="1.5"/>
<circle cx="182.00" cy="514.1" r="2.8" fill="#1f5b99"/>
<text x="196.3" y="518.2" font-size="10" textLength="11.5" lengthAdjust="spacingAndGlyphs">4h</text>
<line x1="246.5" y1="514.1" x2="265.6" y2="514.1" stroke="#222" stroke-width="1.5"/>
<circle cx="256.05" cy="514.1" r="2.8" fill="#3fb64b"/>
<text x="270.0" y="518.2" font-size="10" textLength="20.0" lengthAdjust="spacingAndGlyphs">O/N</text>
<text transform="translate(19.3,606.8) rotate(-90)" font-size="12.8" text-anchor="middle" font-weight="bold" textLength="95.8" lengthAdjust="spacingAndGlyphs">MFI of Fc&#947; R expression</text>
<line x1="67.8" y1="538.5" x2="71.8" y2="538.5" stroke="#000" stroke-width="1.2"/>
<text x="64.6" y="542.6" font-size="11" text-anchor="end">80000</text>
<line x1="67.8" y1="574.5" x2="71.8" y2="574.5" stroke="#000" stroke-width="1.2"/>
<text x="64.6" y="577.7" font-size="11" text-anchor="end">60000</text>
<line x1="67.8" y1="609.5" x2="71.8" y2="609.5" stroke="#000" stroke-width="1.2"/>
<text x="64.6" y="612.9000000000001" font-size="11" text-anchor="end">40000</text>
<line x1="67.8" y1="644.5" x2="71.8" y2="644.5" stroke="#000" stroke-width="1.2"/>
<text x="64.6" y="648.1" font-size="11" text-anchor="end">20000</text>
<line x1="67.8" y1="679.5" x2="71.8" y2="679.5" stroke="#000" stroke-width="1.2"/>
<text x="64.6" y="683.3000000000001" font-size="11" text-anchor="end">0</text>
<line x1="71.1" y1="679.8" x2="142.6" y2="679.8" stroke="#000" stroke-width="1.5"/>
<line x1="71.8" y1="533.3" x2="71.8" y2="680.5" stroke="#000" stroke-width="1.5"/>
<line x1="84.1" y1="558.2" x2="130.8" y2="558.2" stroke="#6a6a6a" stroke-width="1.4"/>
<polygon points="100.05,551.00 100.61,552.13 101.86,552.31 100.95,553.19 101.17,554.44 100.05,553.85 98.93,554.44 99.15,553.19 98.24,552.31 99.49,552.13" fill="#000"/>
<polygon points="104.20,551.00 104.76,552.13 106.01,552.31 105.10,553.19 105.32,554.44 104.20,553.85 103.08,554.44 103.30,553.19 102.39,552.31 103.64,552.13" fill="#000"/>
<polygon points="108.35,551.00 108.91,552.13 110.16,552.31 109.25,553.19 109.47,554.44 108.35,553.85 107.23,554.44 107.45,553.19 106.54,552.31 107.79,552.13" fill="#000"/>
<polyline points="84.4,581.4 107.3,581.8 129.9,639.7" fill="none" stroke="#111" stroke-width="1.2"/>
<polyline points="84.4,587.5 107.3,587.2 129.9,616.8" fill="none" stroke="#111" stroke-width="1.2"/>
<polyline points="84.4,613.7 107.3,587.2 129.9,646.0" fill="none" stroke="#111" stroke-width="1.2"/>
<polyline points="84.4,590.9 107.3,627.2 129.9,649.7" fill="none" stroke="#111" stroke-width="1.2"/>
<polyline points="84.4,596.2 107.3,647.8 129.9,663.3" fill="none" stroke="#111" stroke-width="1.2"/>
<polyline points="84.4,596.2 107.3,647.8 129.9,669.6" fill="none" stroke="#111" stroke-width="1.2"/>
<polyline points="84.4,617.1 107.3,647.8 129.9,671.6" fill="none" stroke="#111" stroke-width="1.2"/>
<polyline points="84.4,593.5 107.3,647.8 129.9,671.0" fill="none" stroke="#111" stroke-width="1.2"/>
<circle cx="84.4" cy="581.4" r="2.7" fill="#d21f3c"/>
<circle cx="107.3" cy="581.8" r="2.7" fill="#1f5b99"/>
<circle cx="129.9" cy="639.7" r="2.7" fill="#3fb64b"/>
<circle cx="84.4" cy="587.5" r="2.7" fill="#d21f3c"/>
<circle cx="107.3" cy="587.2" r="2.7" fill="#1f5b99"/>
<circle cx="129.9" cy="616.8" r="2.7" fill="#3fb64b"/>
<circle cx="84.4" cy="613.7" r="2.7" fill="#d21f3c"/>
<circle cx="107.3" cy="587.2" r="2.7" fill="#1f5b99"/>
<circle cx="129.9" cy="646.0" r="2.7" fill="#3fb64b"/>
<circle cx="84.4" cy="590.9" r="2.7" fill="#d21f3c"/>
<circle cx="107.3" cy="627.2" r="2.7" fill="#1f5b99"/>
<circle cx="129.9" cy="649.7" r="2.7" fill="#3fb64b"/>
<circle cx="84.4" cy="596.2" r="2.7" fill="#d21f3c"/>
<circle cx="107.3" cy="647.8" r="2.7" fill="#1f5b99"/>
<circle cx="129.9" cy="663.3" r="2.7" fill="#3fb64b"/>
<circle cx="84.4" cy="596.2" r="2.7" fill="#d21f3c"/>
<circle cx="107.3" cy="647.8" r="2.7" fill="#1f5b99"/>
<circle cx="129.9" cy="669.6" r="2.7" fill="#3fb64b"/>
<circle cx="84.4" cy="617.1" r="2.7" fill="#d21f3c"/>
<circle cx="107.3" cy="647.8" r="2.7" fill="#1f5b99"/>
<circle cx="129.9" cy="671.6" r="2.7" fill="#3fb64b"/>
<circle cx="84.4" cy="593.5" r="2.7" fill="#d21f3c"/>
<circle cx="107.3" cy="647.8" r="2.7" fill="#1f5b99"/>
<circle cx="129.9" cy="671.0" r="2.7" fill="#3fb64b"/>
<text x="108.0" y="696.9" font-size="12.3" text-anchor="middle" textLength="44.5" lengthAdjust="spacingAndGlyphs">Fc&#947;RIIIb</text>
<line x1="225.2" y1="538.5" x2="229.2" y2="538.5" stroke="#000" stroke-width="1.2"/>
<text x="222.3" y="542.6" font-size="11" text-anchor="end">20000</text>
<line x1="225.2" y1="574.5" x2="229.2" y2="574.5" stroke="#000" stroke-width="1.2"/>
<text x="222.3" y="577.7" font-size="11" text-anchor="end">15000</text>
<line x1="225.2" y1="609.5" x2="229.2" y2="609.5" stroke="#000" stroke-width="1.2"/>
<text x="222.3" y="612.9000000000001" font-size="11" text-anchor="end">10000</text>
<line x1="225.2" y1="644.5" x2="229.2" y2="644.5" stroke="#000" stroke-width="1.2"/>
<text x="222.3" y="648.1" font-size="11" text-anchor="end">5000</text>
<line x1="225.2" y1="679.5" x2="229.2" y2="679.5" stroke="#000" stroke-width="1.2"/>
<text x="222.3" y="683.3000000000001" font-size="11" text-anchor="end">0</text>
<line x1="228.5" y1="679.8" x2="299.5" y2="679.8" stroke="#000" stroke-width="1.5"/>
<line x1="229.2" y1="533.3" x2="229.2" y2="680.5" stroke="#000" stroke-width="1.5"/>
<line x1="241.7" y1="555.0" x2="286.9" y2="555.0" stroke="#6a6a6a" stroke-width="1.4"/>
<polygon points="259.73,548.40 260.28,549.53 261.53,549.71 260.63,550.59 260.84,551.84 259.73,551.25 258.61,551.84 258.82,550.59 257.92,549.71 259.17,549.53" fill="#000"/>
<polygon points="263.88,548.40 264.43,549.53 265.68,549.71 264.78,550.59 264.99,551.84 263.88,551.25 262.76,551.84 262.97,550.59 262.07,549.71 263.32,549.53" fill="#000"/>
<polyline points="241.4,580.0 264.2,579.8 286.8,592.5" fill="none" stroke="#111" stroke-width="1.2"/>
<polyline points="241.4,580.0 264.2,593.1 286.8,607.2" fill="none" stroke="#111" stroke-width="1.2"/>
<polyline points="241.4,586.0 264.2,586.0 286.8,603.1" fill="none" stroke="#111" stroke-width="1.2"/>
<polyline points="241.4,590.0 264.2,617.0 286.8,627.5" fill="none" stroke="#111" stroke-width="1.2"/>
<polyline points="241.4,604.4 264.2,618.0 286.8,619.8" fill="none" stroke="#111" stroke-width="1.2"/>
<polyline points="241.4,610.2 264.2,620.0 286.8,634.4" fill="none" stroke="#111" stroke-width="1.2"/>
<polyline points="241.4,610.2 264.2,629.4 286.8,641.9" fill="none" stroke="#111" stroke-width="1.2"/>
<circle cx="241.4" cy="580.0" r="2.7" fill="#d21f3c"/>
<circle cx="264.2" cy="579.8" r="2.7" fill="#1f5b99"/>
<circle cx="286.8" cy="592.5" r="2.7" fill="#3fb64b"/>
<circle cx="241.4" cy="580.0" r="2.7" fill="#d21f3c"/>
<circle cx="264.2" cy="593.1" r="2.7" fill="#1f5b99"/>
<circle cx="286.8" cy="607.2" r="2.7" fill="#3fb64b"/>
<circle cx="241.4" cy="586.0" r="2.7" fill="#d21f3c"/>
<circle cx="264.2" cy="586.0" r="2.7" fill="#1f5b99"/>
<circle cx="286.8" cy="603.1" r="2.7" fill="#3fb64b"/>
<circle cx="241.4" cy="590.0" r="2.7" fill="#d21f3c"/>
<circle cx="264.2" cy="617.0" r="2.7" fill="#1f5b99"/>
<circle cx="286.8" cy="627.5" r="2.7" fill="#3fb64b"/>
<circle cx="241.4" cy="604.4" r="2.7" fill="#d21f3c"/>
<circle cx="264.2" cy="618.0" r="2.7" fill="#1f5b99"/>
<circle cx="286.8" cy="619.8" r="2.7" fill="#3fb64b"/>
<circle cx="241.4" cy="610.2" r="2.7" fill="#d21f3c"/>
<circle cx="264.2" cy="620.0" r="2.7" fill="#1f5b99"/>
<circle cx="286.8" cy="634.4" r="2.7" fill="#3fb64b"/>
<circle cx="241.4" cy="610.2" r="2.7" fill="#d21f3c"/>
<circle cx="264.2" cy="629.4" r="2.7" fill="#1f5b99"/>
<circle cx="286.8" cy="641.9" r="2.7" fill="#3fb64b"/>
<text x="263.9" y="696.9" font-size="12.3" text-anchor="middle" textLength="39.0" lengthAdjust="spacingAndGlyphs">Fc&#947;RIIa</text>
<line x1="369.1" y1="538.5" x2="373.1" y2="538.5" stroke="#000" stroke-width="1.2"/>
<text x="366.5" y="542.3000000000001" font-size="11" text-anchor="end">2000</text>
<line x1="369.1" y1="574.5" x2="373.1" y2="574.5" stroke="#000" stroke-width="1.2"/>
<text x="366.5" y="577.7" font-size="11" text-anchor="end">1500</text>
<line x1="369.1" y1="609.5" x2="373.1" y2="609.5" stroke="#000" stroke-width="1.2"/>
<text x="366.5" y="612.8000000000001" font-size="11" text-anchor="end">1000</text>
<line x1="369.1" y1="644.5" x2="373.1" y2="644.5" stroke="#000" stroke-width="1.2"/>
<text x="366.5" y="647.9000000000001" font-size="11" text-anchor="end">500</text>
<line x1="369.1" y1="679.5" x2="373.1" y2="679.5" stroke="#000" stroke-width="1.2"/>
<text x="366.5" y="683.0" font-size="11" text-anchor="end">0</text>
<line x1="372.40000000000003" y1="679.8" x2="443.3" y2="679.8" stroke="#000" stroke-width="1.5"/>
<line x1="373.1" y1="533.3" x2="373.1" y2="680.5" stroke="#000" stroke-width="1.5"/>
<line x1="390.8" y1="558.0" x2="431.6" y2="558.0" stroke="#6a6a6a" stroke-width="1.4"/>
<polygon points="412.30,551.40 412.86,552.53 414.11,552.71 413.20,553.59 413.42,554.84 412.30,554.25 411.18,554.84 411.40,553.59 410.49,552.71 411.74,552.53" fill="#000"/>
<polyline points="384.8,636.1 407.5,640.5 429.4,577.0" fill="none" stroke="#111" stroke-width="1.2"/>
<polyline points="384.8,638.0 407.5,643.5 429.4,577.5" fill="none" stroke="#111" stroke-width="1.2"/>
<polyline points="384.8,640.5 407.5,638.0 429.4,615.0" fill="none" stroke="#111" stroke-width="1.2"/>
<polyline points="384.8,643.5 407.5,645.0 429.4,616.8" fill="none" stroke="#111" stroke-width="1.2"/>
<polyline points="384.8,645.0 407.5,641.0 429.4,625.2" fill="none" stroke="#111" stroke-width="1.2"/>
<polyline points="384.8,648.9 407.5,648.9 429.4,627.0" fill="none" stroke="#111" stroke-width="1.2"/>
<polyline points="384.8,641.0 407.5,646.0 429.4,638.7" fill="none" stroke="#111" stroke-width="1.2"/>
<circle cx="384.8" cy="636.1" r="2.7" fill="#d21f3c"/>
<circle cx="407.5" cy="640.5" r="2.7" fill="#1f5b99"/>
<circle cx="429.4" cy="577.0" r="2.7" fill="#3fb64b"/>
<circle cx="384.8" cy="638.0" r="2.7" fill="#d21f3c"/>
<circle cx="407.5" cy="643.5" r="2.7" fill="#1f5b99"/>
<circle cx="429.4" cy="577.5" r="2.7" fill="#3fb64b"/>
<circle cx="384.8" cy="640.5" r="2.7" fill="#d21f3c"/>
<circle cx="407.5" cy="638.0" r="2.7" fill="#1f5b99"/>
<circle cx="429.4" cy="615.0" r="2.7" fill="#3fb64b"/>
<circle cx="384.8" cy="643.5" r="2.7" fill="#d21f3c"/>
<circle cx="407.5" cy="645.0" r="2.7" fill="#1f5b99"/>
<circle cx="429.4" cy="616.8" r="2.7" fill="#3fb64b"/>
<circle cx="384.8" cy="645.0" r="2.7" fill="#d21f3c"/>
<circle cx="407.5" cy="641.0" r="2.7" fill="#1f5b99"/>
<circle cx="429.4" cy="625.2" r="2.7" fill="#3fb64b"/>
<circle cx="384.8" cy="648.9" r="2.7" fill="#d21f3c"/>
<circle cx="407.5" cy="648.9" r="2.7" fill="#1f5b99"/>
<circle cx="429.4" cy="627.0" r="2.7" fill="#3fb64b"/>
<circle cx="384.8" cy="641.0" r="2.7" fill="#d21f3c"/>
<circle cx="407.5" cy="646.0" r="2.7" fill="#1f5b99"/>
<circle cx="429.4" cy="638.7" r="2.7" fill="#3fb64b"/>
<text x="405.6" y="696.9" font-size="12.3" text-anchor="middle" textLength="26.4" lengthAdjust="spacingAndGlyphs">Fc&#947;RI</text>
<text x="7.8" y="719.3" font-size="15.8" font-weight="bold" stroke="#000" stroke-width="0.45">F</text>
<text x="97.8" y="722.9" font-size="12.0" text-anchor="middle" textLength="53.1" lengthAdjust="spacingAndGlyphs">Rituximab</text>
<text x="188.0" y="722.6" font-size="12.0" text-anchor="middle" textLength="82.1" lengthAdjust="spacingAndGlyphs">Fc&#947;RI rituximab</text>
<rect x="50.00" y="727.50" width="185.20" height="141.50" fill="#eaeaea"/>
<line x1="143.5" y1="726.5" x2="143.5" y2="869" stroke="#888" stroke-width="1.0"/>
<text transform="translate(19.6,795.75) rotate(-90)" font-size="13" text-anchor="middle" font-weight="bold" textLength="104.9" lengthAdjust="spacingAndGlyphs">Neutrophil cytotoxicity (%)</text>
<line x1="44.8" y1="727.5" x2="49.3" y2="727.5" stroke="#000" stroke-width="1.2"/>
<text x="40.9" y="731.2" font-size="11" text-anchor="end">60</text>
<line x1="44.8" y1="774.5" x2="49.3" y2="774.5" stroke="#000" stroke-width="1.2"/>
<text x="40.9" y="778.4000000000001" font-size="11" text-anchor="end">40</text>
<line x1="44.8" y1="821.5" x2="49.3" y2="821.5" stroke="#000" stroke-width="1.2"/>
<text x="40.9" y="825.6" font-size="11" text-anchor="end">20</text>
<line x1="44.8" y1="869.5" x2="49.3" y2="869.5" stroke="#000" stroke-width="1.2"/>
<text x="40.9" y="872.8000000000001" font-size="11" text-anchor="end">0</text>
<line x1="59.50" y1="862.50" x2="59.50" y2="863.70" stroke="#3a3a3a" stroke-width="1.2"/>
<line x1="56.50" y1="862.50" x2="62.50" y2="862.50" stroke="#3a3a3a" stroke-width="1.3"/>
<rect x="53.80" y="863.70" width="11.40" height="5.30" fill="#d21f3c"/>
<line x1="73.50" y1="859.50" x2="73.50" y2="862.40" stroke="#3a3a3a" stroke-width="1.2"/>
<line x1="70.50" y1="859.50" x2="76.50" y2="859.50" stroke="#3a3a3a" stroke-width="1.3"/>
<rect x="67.90" y="862.40" width="11.00" height="6.60" fill="#5a2270"/>
<line x1="90.50" y1="859.50" x2="90.50" y2="861.50" stroke="#3a3a3a" stroke-width="1.2"/>
<line x1="87.50" y1="859.50" x2="93.50" y2="859.50" stroke="#3a3a3a" stroke-width="1.3"/>
<rect x="84.80" y="861.50" width="11.30" height="7.50" fill="#d21f3c"/>
<line x1="103.50" y1="844.50" x2="103.50" y2="848.10" stroke="#3a3a3a" stroke-width="1.2"/>
<line x1="100.50" y1="844.50" x2="106.50" y2="844.50" stroke="#3a3a3a" stroke-width="1.3"/>
<rect x="98.30" y="848.10" width="10.70" height="20.90" fill="#5a2270"/>
<line x1="119.50" y1="838.50" x2="119.50" y2="844.90" stroke="#3a3a3a" stroke-width="1.2"/>
<line x1="116.50" y1="838.50" x2="122.50" y2="838.50" stroke="#3a3a3a" stroke-width="1.3"/>
<rect x="114.40" y="844.90" width="10.80" height="24.10" fill="#d21f3c"/>
<line x1="132.50" y1="806.50" x2="132.50" y2="811.70" stroke="#3a3a3a" stroke-width="1.2"/>
<line x1="129.50" y1="806.50" x2="135.50" y2="806.50" stroke="#3a3a3a" stroke-width="1.3"/>
<rect x="127.10" y="811.70" width="11.00" height="57.30" fill="#5a2270"/>
<line x1="150.50" y1="860.50" x2="150.50" y2="864.80" stroke="#3a3a3a" stroke-width="1.2"/>
<line x1="147.50" y1="860.50" x2="153.50" y2="860.50" stroke="#3a3a3a" stroke-width="1.3"/>
<rect x="145.60" y="864.80" width="10.70" height="4.20" fill="#3fb64b"/>
<line x1="163.50" y1="847.50" x2="163.50" y2="859.70" stroke="#3a3a3a" stroke-width="1.2"/>
<line x1="160.50" y1="847.50" x2="166.50" y2="847.50" stroke="#3a3a3a" stroke-width="1.3"/>
<rect x="157.70" y="859.70" width="11.60" height="9.30" fill="#5a2270"/>
<line x1="180.50" y1="863.50" x2="180.50" y2="864.80" stroke="#3a3a3a" stroke-width="1.2"/>
<line x1="177.50" y1="863.50" x2="183.50" y2="863.50" stroke="#3a3a3a" stroke-width="1.3"/>
<rect x="175.20" y="864.80" width="10.80" height="4.20" fill="#3fb64b"/>
<line x1="194.50" y1="838.50" x2="194.50" y2="851.30" stroke="#3a3a3a" stroke-width="1.2"/>
<line x1="191.50" y1="838.50" x2="197.50" y2="838.50" stroke="#3a3a3a" stroke-width="1.3"/>
<rect x="188.70" y="851.30" width="10.70" height="17.70" fill="#5a2270"/>
<line x1="210.50" y1="834.50" x2="210.50" y2="848.90" stroke="#3a3a3a" stroke-width="1.2"/>
<line x1="207.50" y1="834.50" x2="213.50" y2="834.50" stroke="#3a3a3a" stroke-width="1.3"/>
<rect x="204.80" y="848.90" width="11.30" height="20.10" fill="#3fb64b"/>
<line x1="224.50" y1="803.50" x2="224.50" y2="827.40" stroke="#3a3a3a" stroke-width="1.2"/>
<line x1="221.50" y1="803.50" x2="227.50" y2="803.50" stroke="#3a3a3a" stroke-width="1.3"/>
<rect x="218.80" y="827.40" width="11.10" height="41.60" fill="#5a2270"/>
<line x1="48.6" y1="869.1" x2="235.8" y2="869.1" stroke="#000" stroke-width="1.6"/>
<line x1="49.3" y1="721.5" x2="49.3" y2="869.8" stroke="#000" stroke-width="1.6"/>
<line x1="61.9" y1="851.5" x2="72.7" y2="851.5" stroke="#333" stroke-width="1.3"/>
<text x="66.1" y="850.1999999999999" font-size="10.6" text-anchor="middle" textLength="10.6" lengthAdjust="spacingAndGlyphs">ns</text>
<line x1="90.19999999999999" y1="839.5" x2="101.0" y2="839.5" stroke="#333" stroke-width="1.3"/>
<text x="94.39999999999999" y="838.0" font-size="10.6" text-anchor="middle" textLength="10.6" lengthAdjust="spacingAndGlyphs">ns</text>
<line x1="151.9" y1="842.5" x2="162.9" y2="842.5" stroke="#333" stroke-width="1.3"/>
<text x="156.20000000000002" y="840.8" font-size="10.6" text-anchor="middle" textLength="10.6" lengthAdjust="spacingAndGlyphs">ns</text>
<line x1="182.3" y1="833.5" x2="193.3" y2="833.5" stroke="#333" stroke-width="1.3"/>
<text x="186.60000000000002" y="831.6" font-size="10.6" text-anchor="middle" textLength="10.6" lengthAdjust="spacingAndGlyphs">ns</text>
<line x1="119.8" y1="795.5" x2="133.8" y2="795.5" stroke="#333" stroke-width="1.3"/>
<polygon points="120.95,789.20 121.48,790.27 122.66,790.44 121.81,791.28 122.01,792.46 120.95,791.90 119.89,792.46 120.09,791.28 119.24,790.44 120.42,790.27" fill="#000"/>
<polygon points="124.85,789.20 125.38,790.27 126.56,790.44 125.71,791.28 125.91,792.46 124.85,791.90 123.79,792.46 123.99,791.28 123.14,790.44 124.32,790.27" fill="#000"/>
<polygon points="128.75,789.20 129.28,790.27 130.46,790.44 129.61,791.28 129.81,792.46 128.75,791.90 127.69,792.46 127.89,791.28 127.04,790.44 128.22,790.27" fill="#000"/>
<polygon points="132.65,789.20 133.18,790.27 134.36,790.44 133.51,791.28 133.71,792.46 132.65,791.90 131.59,792.46 131.79,791.28 130.94,790.44 132.12,790.27" fill="#000"/>
<line x1="213.4" y1="795.5" x2="223.7" y2="795.5" stroke="#333" stroke-width="1.3"/>
<polygon points="218.50,789.20 219.03,790.27 220.21,790.44 219.36,791.28 219.56,792.46 218.50,791.90 217.44,792.46 217.64,791.28 216.79,790.44 217.97,790.27" fill="#000"/>
<path d="M60.5 825.5 V819.5 H121.5 V825.5" stroke="#333" stroke-width="1.3" fill="none"/>
<text x="89.7" y="816.3" font-size="10.6" text-anchor="middle" textLength="10.6" lengthAdjust="spacingAndGlyphs">ns</text>
<path d="M151.5 819.5 V814.5 H211.5 V819.5" stroke="#333" stroke-width="1.3" fill="none"/>
<text x="180.6" y="812.0" font-size="10.6" text-anchor="middle" textLength="10.6" lengthAdjust="spacingAndGlyphs">ns</text>
<path d="M133.5 775.5 V769.5 H223.5 V775.5" stroke="#333" stroke-width="1.3" fill="none"/>
<text x="179.8" y="767.3" font-size="10.6" text-anchor="middle" textLength="10.6" lengthAdjust="spacingAndGlyphs">ns</text>
<text transform="translate(68.9,878.9) rotate(-45)" font-size="10.5" text-anchor="end">Unstim.</text>
<text transform="translate(100.4,879.6) rotate(-45)" font-size="10.5" text-anchor="end">4h</text>
<text transform="translate(130.8,880.1) rotate(-45)" font-size="10.5" text-anchor="end">O/N</text>
<text transform="translate(159.8,879.7) rotate(-45)" font-size="10.5" text-anchor="end">Unstim.</text>
<text transform="translate(189.5,880.4) rotate(-45)" font-size="10.5" text-anchor="end">4h</text>
<text transform="translate(222.7,880.2) rotate(-45)" font-size="10.5" text-anchor="end">O/N</text>
<rect x="48.30" y="910.60" width="18.70" height="5.80" fill="#d21f3c"/>
<rect x="48.30" y="926.70" width="18.70" height="5.90" fill="#3fb64b"/>
<text x="71.3" y="916.4" font-size="10" textLength="44.3" lengthAdjust="spacingAndGlyphs">Rituximab</text>
<text x="71.3" y="932.3" font-size="10" textLength="63.0" lengthAdjust="spacingAndGlyphs">Fc&#947;RI rituximab</text>
<path d="M135.5 906.5 H143.5 V936.5 H135.5" stroke="#333" stroke-width="1.3" fill="none"/>
<rect x="148.30" y="918.90" width="18.00" height="5.90" fill="#5a2270"/>
<text x="173.8" y="925.0" font-size="10" textLength="30.2" lengthAdjust="spacingAndGlyphs">+ SSG</text>
</svg>
<div class="frame"></div>
</body></html>
